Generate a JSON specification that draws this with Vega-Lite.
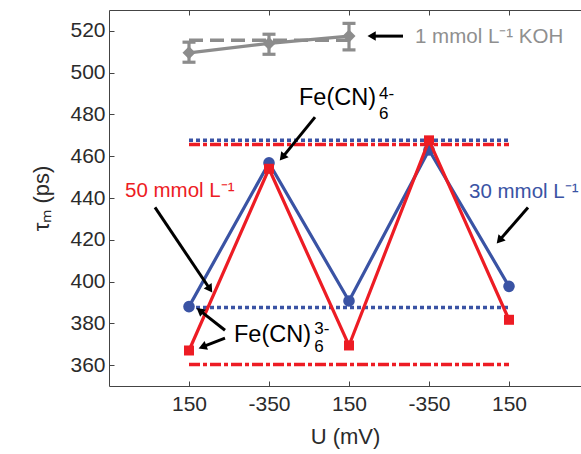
{
  "$schema": "https://vega.github.io/schema/vega-lite/v6.json",
  "width": 472,
  "height": 376,
  "autosize": {"type": "none"},
  "padding": {"left": 109, "top": 10, "right": 0, "bottom": 68},
  "background": "white",
  "config": {
    "view": {"stroke": null},
    "font": "Liberation Sans",
    "axis": {
      "domainColor": "#444444",
      "domainWidth": 1,
      "tickColor": "#444444",
      "tickWidth": 1,
      "tickSize": -5,
      "grid": false,
      "labelFont": "Liberation Sans",
      "labelFontSize": 21,
      "labelColor": "#2b2b2b",
      "titleFont": "Liberation Sans",
      "titleFontSize": 22,
      "titleFontWeight": "normal",
      "titleColor": "#2b2b2b"
    }
  },
  "datasets": {
    "series": [
      {"series": "30 mmol", "x": 1, "y": 388},
      {"series": "30 mmol", "x": 2, "y": 456.8},
      {"series": "30 mmol", "x": 3, "y": 390.7},
      {"series": "30 mmol", "x": 4, "y": 463},
      {"series": "30 mmol", "x": 5, "y": 397.7},
      {"series": "50 mmol", "x": 1, "y": 367},
      {"series": "50 mmol", "x": 2, "y": 454},
      {"series": "50 mmol", "x": 3, "y": 369.4},
      {"series": "50 mmol", "x": 4, "y": 467.6},
      {"series": "50 mmol", "x": 5, "y": 381.7}
    ],
    "refs": [
      {"series": "30 mmol", "y": 467.6, "x": 1, "x2": 5},
      {"series": "30 mmol", "y": 387.6, "x": 1, "x2": 5},
      {"series": "50 mmol", "y": 465.6, "x": 1, "x2": 5},
      {"series": "50 mmol", "y": 360.3, "x": 1, "x2": 5}
    ],
    "koh": [
      {"x": 1, "y": 509.5, "lo": 505.0, "hi": 514.6},
      {"x": 2, "y": 514.0, "lo": 508.8, "hi": 518.4},
      {"x": 3, "y": 517.5, "lo": 510.9, "hi": 523.6}
    ],
    "kohmean": [
      {"x": 1, "x2": 3, "y": 515.5}
    ],
    "labels": [
      {"text": "1 mmol L⁻¹ KOH", "x": 3.825, "y": 514.1, "group": "koh"},
      {"text": "50 mmol L⁻¹", "x": 0.2, "y": 440.4, "group": "50 mmol"},
      {"text": "30 mmol L⁻¹", "x": 4.5, "y": 439.9, "group": "30 mmol"}
    ],
    "fe": [
      {"text": "Fe(CN)", "x": 2.375, "y": 484.4},
      {"text": "Fe(CN)", "x": 1.5625, "y": 371.0}
    ],
    "fesmall": [
      {"text": "6", "x": 3.375, "y": 477.6},
      {"text": "4-", "x": 3.375, "y": 487.6},
      {"text": "6", "x": 2.565, "y": 366.3},
      {"text": "3-", "x": 2.565, "y": 374.8}
    ],
    "arrows": [
      {"id": "koh", "x": 3.675, "y": 517.5, "hx": 3.3, "hy": 517.5},
      {"id": "fe4", "x": 2.575, "y": 478.7, "hx": 2.1775, "hy": 459.95},
      {"id": "c50", "x": 0.575, "y": 435.5, "hx": 1.2525, "hy": 396.9},
      {"id": "c30", "x": 5.2375, "y": 435.5, "hx": 4.891, "hy": 420.2},
      {"id": "fe3a", "x": 1.45, "y": 376.7, "hx": 1.149, "hy": 385.7},
      {"id": "fe3b", "x": 1.45, "y": 372.9, "hx": 1.184, "hy": 368.95}
    ]
  },
  "resolve": {"axis": {"x": "independent", "y": "independent"}},
  "layer": [
    {
      "data": {"name": "refs"},
      "transform": [{"filter": "datum.series == '30 mmol'"}],
      "mark": {"type": "rule", "strokeWidth": 3.5, "strokeDash": [4, 3], "color": "#3a53a4"},
      "encoding": {
        "x": {"field": "x", "type": "quantitative", "scale": {"domain": [0, 5.9], "nice": false, "zero": false},
          "axis": {"orient": "top", "values": [1, 2, 3, 4, 5], "labels": false, "title": null}},
        "x2": {"field": "x2"},
        "y": {"field": "y", "type": "quantitative", "scale": {"domain": [350, 530], "nice": false, "zero": false}, "axis": null}
      }
    },
    {
      "data": {"name": "refs"},
      "transform": [{"filter": "datum.series == '50 mmol'"}],
      "mark": {"type": "rule", "strokeWidth": 3.5, "strokeDash": [11, 3, 4, 3], "color": "#ed1c24"},
      "encoding": {
        "x": {"field": "x", "type": "quantitative", "axis": null},
        "x2": {"field": "x2"},
        "y": {"field": "y", "type": "quantitative", "axis": null}
      }
    },
    {
      "data": {"name": "kohmean"},
      "mark": {"type": "rule", "strokeWidth": 3.5, "strokeDash": [14, 7], "color": "#8c8c8c"},
      "encoding": {
        "x": {"field": "x", "type": "quantitative", "axis": null},
        "x2": {"field": "x2"},
        "y": {"field": "y", "type": "quantitative", "axis": null}
      }
    },
    {
      "data": {"name": "koh"},
      "mark": {"type": "line", "strokeWidth": 3.2, "color": "#8c8c8c"},
      "encoding": {
        "x": {"field": "x", "type": "quantitative", "axis": null},
        "y": {"field": "y", "type": "quantitative", "axis": null}
      }
    },
    {
      "data": {"name": "koh"},
      "mark": {"type": "rule", "strokeWidth": 3.2, "color": "#8c8c8c"},
      "encoding": {
        "x": {"field": "x", "type": "quantitative", "axis": null},
        "y": {"field": "lo", "type": "quantitative", "axis": null},
        "y2": {"field": "hi"}
      }
    },
    {
      "data": {"name": "koh"},
      "mark": {"type": "tick", "orient": "horizontal", "size": 13, "thickness": 3.2, "color": "#8c8c8c", "opacity": 1},
      "encoding": {
        "x": {"field": "x", "type": "quantitative", "axis": null},
        "y": {"field": "lo", "type": "quantitative", "axis": null}
      }
    },
    {
      "data": {"name": "koh"},
      "mark": {"type": "tick", "orient": "horizontal", "size": 13, "thickness": 3.2, "color": "#8c8c8c", "opacity": 1},
      "encoding": {
        "x": {"field": "x", "type": "quantitative", "axis": null},
        "y": {"field": "hi", "type": "quantitative", "axis": null}
      }
    },
    {
      "data": {"name": "koh"},
      "mark": {"type": "point", "shape": "diamond", "filled": true, "size": 170, "color": "#8c8c8c", "opacity": 1},
      "encoding": {
        "x": {"field": "x", "type": "quantitative", "axis": null},
        "y": {"field": "y", "type": "quantitative", "axis": null}
      }
    },
    {
      "data": {"name": "series"},
      "transform": [{"filter": "datum.series == '30 mmol'"}],
      "mark": {"type": "line", "strokeWidth": 3.2, "color": "#3a53a4"},
      "encoding": {
        "x": {"field": "x", "type": "quantitative",
          "axis": {"orient": "bottom", "values": [1, 2, 3, 4, 5], "labelExpr": "datum.value % 2 == 1 ? '150' : '-350'", "labelPadding": 12, "title": "U (mV)", "titlePadding": 12}},
        "y": {"field": "y", "type": "quantitative",
          "axis": {"orient": "left", "values": [360, 380, 400, 420, 440, 460, 480, 500, 520], "labelPadding": 9, "title": "τₘ (ps)", "titlePadding": 16}}
      }
    },
    {
      "data": {"name": "series"},
      "transform": [{"filter": "datum.series == '30 mmol'"}],
      "mark": {"type": "point", "shape": "circle", "filled": true, "size": 135, "color": "#3a53a4", "opacity": 1},
      "encoding": {
        "x": {"field": "x", "type": "quantitative", "axis": null},
        "y": {"field": "y", "type": "quantitative", "axis": null}
      }
    },
    {
      "data": {"name": "series"},
      "transform": [{"filter": "datum.series == '50 mmol'"}],
      "mark": {"type": "line", "strokeWidth": 3.2, "color": "#ed1c24"},
      "encoding": {
        "x": {"field": "x", "type": "quantitative", "axis": null},
        "y": {"field": "y", "type": "quantitative", "axis": null}
      }
    },
    {
      "data": {"name": "series"},
      "transform": [{"filter": "datum.series == '50 mmol'"}],
      "mark": {"type": "point", "shape": "square", "filled": true, "size": 100, "color": "#ed1c24", "opacity": 1},
      "encoding": {
        "x": {"field": "x", "type": "quantitative", "axis": null},
        "y": {"field": "y", "type": "quantitative", "axis": null}
      }
    },
    {
      "data": {"name": "arrows"},
      "mark": {"type": "rule", "strokeWidth": 3, "color": "black"},
      "encoding": {
        "x": {"field": "x", "type": "quantitative", "axis": null},
        "y": {"field": "y", "type": "quantitative", "axis": null},
        "x2": {"field": "hx"},
        "y2": {"field": "hy"}
      }
    },
    {
      "data": {"name": "arrows"},
      "transform": [{"filter": "datum.id == 'koh'"}],
      "mark": {"type": "point", "shape": "triangle", "filled": true, "size": 90, "color": "black", "opacity": 1, "angle": 270},
      "encoding": {
        "x": {"field": "hx", "type": "quantitative", "axis": null},
        "y": {"field": "hy", "type": "quantitative", "axis": null}
      }
    },
    {
      "data": {"name": "arrows"},
      "transform": [{"filter": "datum.id == 'fe4'"}],
      "mark": {"type": "point", "shape": "triangle", "filled": true, "size": 90, "color": "black", "opacity": 1, "angle": 219},
      "encoding": {
        "x": {"field": "hx", "type": "quantitative", "axis": null},
        "y": {"field": "hy", "type": "quantitative", "axis": null}
      }
    },
    {
      "data": {"name": "arrows"},
      "transform": [{"filter": "datum.id == 'c50'"}],
      "mark": {"type": "point", "shape": "triangle", "filled": true, "size": 90, "color": "black", "opacity": 1, "angle": 146},
      "encoding": {
        "x": {"field": "hx", "type": "quantitative", "axis": null},
        "y": {"field": "hy", "type": "quantitative", "axis": null}
      }
    },
    {
      "data": {"name": "arrows"},
      "transform": [{"filter": "datum.id == 'c30'"}],
      "mark": {"type": "point", "shape": "triangle", "filled": true, "size": 90, "color": "black", "opacity": 1, "angle": 221},
      "encoding": {
        "x": {"field": "hx", "type": "quantitative", "axis": null},
        "y": {"field": "hy", "type": "quantitative", "axis": null}
      }
    },
    {
      "data": {"name": "arrows"},
      "transform": [{"filter": "datum.id == 'fe3a'"}],
      "mark": {"type": "point", "shape": "triangle", "filled": true, "size": 90, "color": "black", "opacity": 1, "angle": 308},
      "encoding": {
        "x": {"field": "hx", "type": "quantitative", "axis": null},
        "y": {"field": "hy", "type": "quantitative", "axis": null}
      }
    },
    {
      "data": {"name": "arrows"},
      "transform": [{"filter": "datum.id == 'fe3b'"}],
      "mark": {"type": "point", "shape": "triangle", "filled": true, "size": 90, "color": "black", "opacity": 1, "angle": 249},
      "encoding": {
        "x": {"field": "hx", "type": "quantitative", "axis": null},
        "y": {"field": "hy", "type": "quantitative", "axis": null}
      }
    },
    {
      "data": {"name": "labels"},
      "mark": {"type": "text", "align": "left", "baseline": "alphabetic", "fontSize": 20.5, "font": "Liberation Sans"},
      "encoding": {
        "x": {"field": "x", "type": "quantitative", "axis": null},
        "y": {"field": "y", "type": "quantitative", "axis": null},
        "text": {"field": "text"},
        "color": {"field": "group", "type": "nominal", "legend": null,
          "scale": {"domain": ["koh", "50 mmol", "30 mmol"], "range": ["#8f8f8f", "#ed1c24", "#3a53a4"]}}
      }
    },
    {
      "data": {"name": "fe"},
      "mark": {"type": "text", "align": "left", "baseline": "alphabetic", "fontSize": 23.5, "font": "Liberation Sans", "color": "black"},
      "encoding": {
        "x": {"field": "x", "type": "quantitative", "axis": null},
        "y": {"field": "y", "type": "quantitative", "axis": null},
        "text": {"field": "text"}
      }
    },
    {
      "data": {"name": "fesmall"},
      "mark": {"type": "text", "align": "left", "baseline": "alphabetic", "fontSize": 17, "font": "Liberation Sans", "color": "black"},
      "encoding": {
        "x": {"field": "x", "type": "quantitative", "axis": null},
        "y": {"field": "y", "type": "quantitative", "axis": null},
        "text": {"field": "text"}
      }
    }
  ]
}
